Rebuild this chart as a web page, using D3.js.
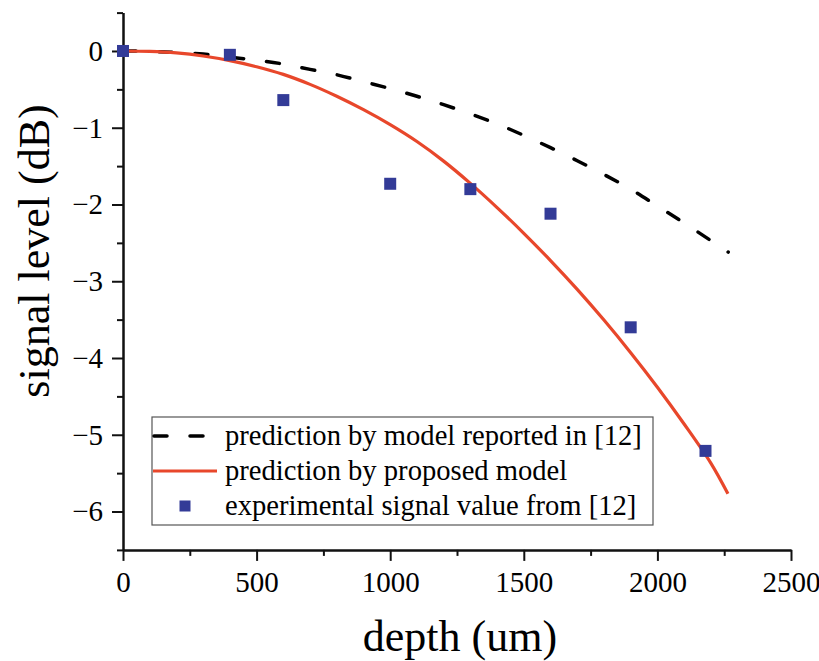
<!DOCTYPE html>
<html>
<head>
<meta charset="utf-8">
<script src="https://cdn.jsdelivr.net/npm/d3@7"></script>
<style>
  html, body { margin: 0; padding: 0; background: #fff; }
  svg text { font-family: "Liberation Serif", "Times New Roman", serif; fill: #000; }
</style>
</head>
<body>
<svg id="chart" width="819" height="661"></svg>
<script>
// ---- data ----
const legendLabels = [
  "prediction by model reported in [12]",
  "prediction by proposed model",
  "experimental signal value from [12]"
];
const xTicks = [0, 500, 1000, 1500, 2000, 2500];
const xMinorTicks = [250, 750, 1250, 1750, 2250];
const yTicks = [0, -1, -2, -3, -4, -5, -6];
const yMinorTicks = [0.5, -0.5, -1.5, -2.5, -3.5, -4.5, -5.5, -6.5];

// prediction by model reported in [12] (dashed black)
const refDepth  = [0, 100, 200, 300, 400, 500, 600, 700, 800, 900, 1000, 1100, 1200, 1300, 1400, 1500, 1600, 1700, 1800, 1900, 2000, 2100, 2200, 2265];
const refSignal = [0, -0.005, -0.02, -0.04, -0.08, -0.12, -0.17, -0.24, -0.31, -0.40, -0.49, -0.59, -0.70, -0.82, -0.95, -1.10, -1.26, -1.43, -1.61, -1.80, -2.02, -2.24, -2.47, -2.62];

// prediction by proposed model (red)
const propDepth  = [0, 100, 200, 300, 400, 500, 600, 700, 800, 900, 1000, 1100, 1200, 1300, 1400, 1500, 1600, 1700, 1800, 1900, 2000, 2100, 2200, 2264];
const propSignal = [0, -0.005, -0.025, -0.065, -0.125, -0.205, -0.305, -0.435, -0.59, -0.765, -0.96, -1.18, -1.435, -1.725, -2.04, -2.375, -2.73, -3.105, -3.505, -3.93, -4.38, -4.86, -5.37, -5.77];

// experimental signal values from [12]
const expDepth  = [0, 400, 600, 1000, 1300, 1600, 1900, 2180];
const expSignal = [0, -0.05, -0.64, -1.73, -1.80, -2.12, -3.60, -5.21];

// ---- layout ----
const svg = d3.select("#chart");
const x = d3.scaleLinear().domain([0, 2500]).range([123, 791]);
const y = d3.scaleLinear().domain([-6.5, 0.5]).range([549.9, 12.6]);
const fmt = d3.format("");
const blue = "#333b97", red = "#e8472b";

// axes
const xAxisMajor = d3.axisBottom(x).tickValues(xTicks).tickSize(11).tickSizeOuter(0).tickPadding(11).tickFormat(fmt);
const xAxisMinor = d3.axisBottom(x).tickValues(xMinorTicks).tickSize(6).tickSizeOuter(0).tickFormat("");
const yAxisMajor = d3.axisLeft(y).tickValues(yTicks).tickSize(11).tickSizeOuter(0).tickPadding(9).tickFormat(fmt);
const yAxisMinor = d3.axisLeft(y).tickValues(yMinorTicks).tickSize(6).tickSizeOuter(0).tickFormat("");

function styleAxis(g, fs) {
  g.selectAll("path.domain").attr("stroke", "#111").attr("stroke-width", 2);
  g.selectAll(".tick line").attr("stroke", "#111").attr("stroke-width", 2);
  g.selectAll("text").attr("font-size", fs).attr("font-family", '"Liberation Serif", serif').attr("fill", "#000");
}

const gx = svg.append("g").attr("transform", `translate(0,${y(-6.5)})`);
gx.append("g").call(xAxisMinor).call(g => styleAxis(g, 29));
gx.append("g").call(xAxisMajor).call(g => styleAxis(g, 29));

const gy = svg.append("g").attr("transform", `translate(${x(0)},0)`);
gy.append("g").call(yAxisMinor).call(g => styleAxis(g, 29));
gy.append("g").call(yAxisMajor).call(g => styleAxis(g, 29));

// axis titles
svg.append("text")
  .attr("x", 460).attr("y", 651)
  .attr("text-anchor", "middle")
  .attr("font-size", 44)
  .text("depth (um)");

svg.append("text")
  .attr("transform", "translate(49,251) rotate(-90)")
  .attr("text-anchor", "middle")
  .attr("font-size", 44)
  .text("signal level (dB)");

// series
const line = d3.line().x(d => x(d[0])).y(d => y(d[1])).curve(d3.curveCatmullRom);
const refData = refDepth.map((d, i) => [d, refSignal[i]]);
const propData = propDepth.map((d, i) => [d, propSignal[i]]);
const expData = expDepth.map((d, i) => [d, expSignal[i]]);

svg.append("path")
  .datum(refData)
  .attr("d", line)
  .attr("fill", "none")
  .attr("stroke", "#000")
  .attr("stroke-width", 3.5)
  .attr("stroke-linecap", "round")
  .attr("stroke-dasharray", "13,23");

svg.append("path")
  .datum(propData)
  .attr("d", line)
  .attr("fill", "none")
  .attr("stroke", red)
  .attr("stroke-width", 3.2);

const sq = 12;
svg.append("g").selectAll("rect")
  .data(expData)
  .join("rect")
  .attr("x", d => x(d[0]) - sq / 2)
  .attr("y", d => y(d[1]) - sq / 2)
  .attr("width", sq).attr("height", sq)
  .attr("fill", blue);

// legend
const lg = svg.append("g");
lg.append("rect")
  .attr("x", 152).attr("y", 417).attr("width", 501).attr("height", 108)
  .attr("fill", "#fff").attr("stroke", "#555").attr("stroke-width", 1.2);

const rowY = [436, 471, 506];
lg.append("line")
  .attr("x1", 154).attr("x2", 207).attr("y1", rowY[0]).attr("y2", rowY[0])
  .attr("stroke", "#000").attr("stroke-width", 3.5)
  .attr("stroke-linecap", "round").attr("stroke-dasharray", "13,23");
lg.append("line")
  .attr("x1", 153).attr("x2", 217).attr("y1", rowY[1]).attr("y2", rowY[1])
  .attr("stroke", red).attr("stroke-width", 3.2);
lg.append("rect")
  .attr("x", 185 - 5.5).attr("y", rowY[2] - 5.5).attr("width", 11).attr("height", 11)
  .attr("fill", blue);

lg.selectAll("text.leg")
  .data(legendLabels)
  .join("text")
  .attr("class", "leg")
  .attr("x", 225)
  .attr("y", (d, i) => rowY[i] + 9)
  .attr("font-size", 28.6)
  .text(d => d);
</script>
</body>
</html>
